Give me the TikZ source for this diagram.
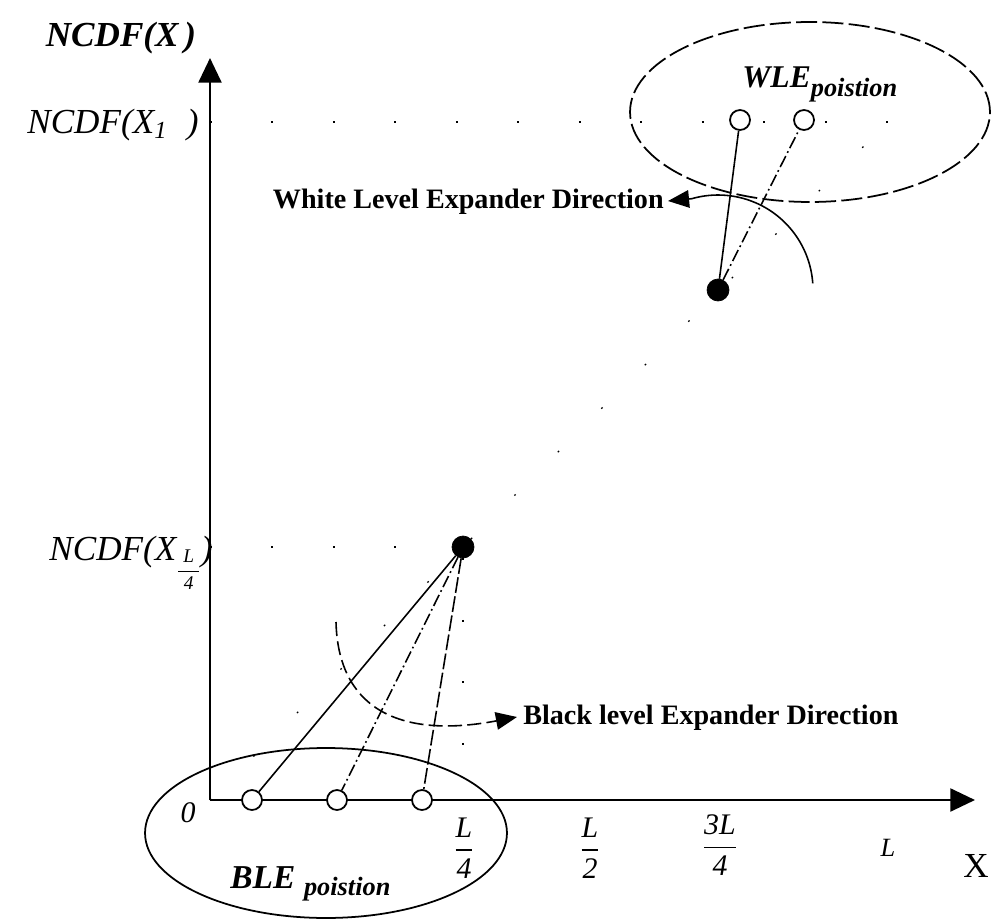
\documentclass[tikz,border=0pt]{standalone}
\usepackage{amsmath}
\usepackage{fontspec}
\setmainfont{Liberation Serif}
\usetikzlibrary{positioning, arrows.meta, calc, shapes.geometric}

\begin{document}
\begin{tikzpicture}[
    % one unit = one pixel of the original figure, y pointing down
    x=0.02cm, y=-0.02cm,
    axis/.style={
        line width=1.5pt,
        -{Triangle[length=14pt, width=13pt]}
    },
    fulldot/.style={
        circle,
        draw=black,
        fill=black,
        inner sep=0pt,
        minimum size=0.44cm
    },
    emptydot/.style={
        circle,
        draw=black,
        fill=white,
        line width=1pt,
        inner sep=0pt,
        minimum size=0.4cm
    },
    link/.style={line width=0.9pt},
    dashlink/.style={link, dash pattern=on 7pt off 2pt on 1pt off 2pt},
    guide/.style={line width=0.7pt, dash pattern=on 1pt off 34pt},
    region/.style={
        ellipse,
        draw=black,
        line width=1pt,
        inner sep=0pt
    },
    sweep/.style={
        line width=0.9pt,
        -{Triangle[length=12pt, width=10pt]}
    },
    ticklabel/.style={font=\fontsize{17}{19}\selectfont\itshape, inner sep=0pt},
    ylabel/.style={font=\fontsize{20}{22}\selectfont\itshape, inner sep=0pt},
    dirlabel/.style={font=\fontsize{16}{18}\selectfont\bfseries, inner sep=0pt}
]

\useasboundingbox (0,0) rectangle (991,919);

% ==============================
% Regions
% ==============================
\node[region, dash pattern=on 12pt off 3pt, minimum width=7.2cm, minimum height=3.6cm] (wle) at (810,112) {};
\node[region, minimum width=7.24cm, minimum height=3.4cm] (ble) at (326,833) {};

% ==============================
% Axes and guides
% ==============================
\coordinate (o) at (210,800);
\coordinate (xend) at (975,800);
\coordinate (yend) at (210,58);
\coordinate (corner) at (888,122);

\node[fulldot] (bdot) at (463,547) {};
\node[fulldot] (wdot) at (718,290) {};

\draw[guide] (o) -- (corner);
\draw[guide] (o |- corner) -- (corner);
\draw[guide] (o |- bdot) -- (bdot);
\draw[guide] (bdot) -- (bdot |- o);

\draw[axis] (o) -- (xend);
\draw[axis] (o) -- (yend);

% ==============================
% Level positions
% ==============================
\node[emptydot] (b1) at (252,800) {};
\node[emptydot] (b2) at (337,800) {};
\node[emptydot] (b3) at (422,800) {};
\node[emptydot] (w1) at (740,120) {};
\node[emptydot] (w2) at (804,120) {};

\draw[link] (bdot) -- (b1);
\draw[dashlink] (bdot) -- (b2);
\draw[link, dash pattern=on 9pt off 2pt] (bdot) -- (b3);
\draw[link] (wdot) -- (w1);
\draw[dashlink] (wdot) -- (w2);

% Expander directions
\coordinate (bstart) at (336,622);
\coordinate (bend) at (517,717);
\coordinate (wtip) at (668,201);
\draw[sweep, dash pattern=on 8pt off 3pt] (bstart) .. controls (338,705) and (395,740) .. (bend);
\draw[sweep] ($(wdot)+(-4:95)$) arc[start angle=-4, end angle=-106, radius=95] -- (wtip);

% ==============================
% Labels
% ==============================
\node[font=\fontsize{20}{22}\selectfont\bfseries\itshape, anchor=base, inner sep=0pt] (ytitle) at (121,47) {NCDF(X\,)};
\node[ylabel, anchor=base east] (ytop) at (199,133) {NCDF(X$_{\textit{1}}$\;\;)};
\node[ylabel, anchor=base east] (ylow) at (213,560)
    {NCDF(X\raisebox{-9pt}{\fontsize{11}{13}\selectfont$\dfrac{\textit{L}}{\;\textit{4}\;}$})};

\node[ticklabel] (zero) at (188,813) {0};
\node[ticklabel] (q1) at (464,848) {$\dfrac{\textit{L}}{\textit{4}}$};
\node[ticklabel] (q2) at (590,848) {$\dfrac{\textit{L}}{\textit{2}}$};
\node[ticklabel] (q3) at (720,845) {$\dfrac{\textit{3L}}{\textit{4}}$};
\node[font=\fontsize{15}{17}\selectfont\itshape, inner sep=0pt] (qL) at (888,848) {L};
\node[font=\fontsize{20}{22}\selectfont, inner sep=0pt] (xlabel) at (976,866) {X};

\node[font=\bfseries\itshape, anchor=base west, inner sep=0pt] (wlelabel) at (742,88)
    {{\fontsize{18}{20}\selectfont WLE}{\fontsize{15}{17}\selectfont\raisebox{-5pt}{poistion}}};
\node[font=\bfseries\itshape, anchor=base west, inner sep=0pt] (blelabel) at (230,888)
    {{\fontsize{19}{21}\selectfont BLE}\hspace{5pt}{\fontsize{15}{17}\selectfont\raisebox{-4pt}{poistion}}};

\node[dirlabel, anchor=east] (wdir) at (664,202) {White Level Expander Direction};
\node[dirlabel, anchor=west] (bdir) at (523,718) {Black level Expander Direction};

\end{tikzpicture}
\end{document}
